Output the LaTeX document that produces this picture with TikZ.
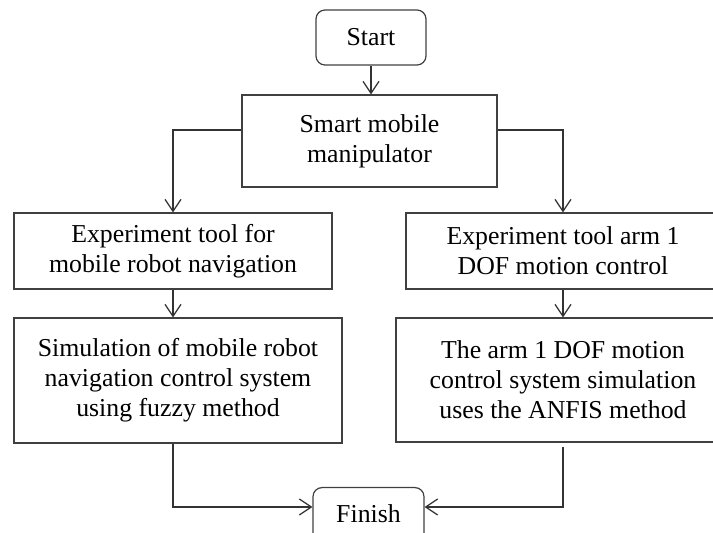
\documentclass[tikz,border=0pt]{standalone}
\usepackage{fontspec}
\setmainfont{Liberation Serif}
\usetikzlibrary{arrows.meta}
\begin{document}
\begin{tikzpicture}[x=0.5pt,y=-0.5pt,
  every node/.style={font=\fontsize{12.9}{15}\selectfont, align=center, inner sep=0pt, text=black},
  box/.style={draw=black!75, line width=0.6pt, rectangle},
  rbox/.style={box, rounded corners=4.5pt},
  arr/.style={draw=black!80, line width=0.6pt, -{Straight Barb[length=6pt,width=8pt]}},
  ln/.style={draw=black!80, line width=0.6pt}]
\useasboundingbox (0,0) rectangle (713,533);

\node[rbox, minimum width=55pt, minimum height=27.5pt] (start) at (371,37.5) {Start};
\node[box, minimum width=127.5pt, minimum height=46pt] (smart) at (369.5,141) {Smart mobile\\manipulator};
\node[box, minimum width=159pt, minimum height=38pt] (l1) at (173,251) {Experiment tool for\\mobile robot navigation};
\node[box, minimum width=157pt, minimum height=38pt] (r1) at (563,251) {Experiment tool arm 1\\DOF motion control};
\node[box, minimum width=164pt, minimum height=62.5pt] (l2) at (178,380.5) {Simulation of mobile robot\\navigation control system\\using fuzzy method};
\node[box, minimum width=167pt, minimum height=62pt] (r2) at (563,380) {The arm 1 DOF motion\\control system simulation\\uses the ANFIS method};
\node[rbox, minimum width=55.5pt, minimum height=27.5pt, anchor=north] (finish) at (368.5,487) {\raisebox{2pt}{Finish}};

\draw[arr] (start.south) -- (start.south |- smart.north);
\draw[arr] (smart.west |- 0,130) -| (l1.north);
\draw[arr] (smart.east |- 0,130) -| (r1.north);
\draw[arr] (l1.south) -- (l1.south |- l2.north);
\draw[arr] (r1.south) -- (r1.south |- r2.north);
\draw[arr] (l2.south -| l1.south) |- (finish.west |- 0,507);
\draw[arr] ([yshift=-2pt]r2.south) |- (finish.east |- 0,507);
\end{tikzpicture}
\end{document}
